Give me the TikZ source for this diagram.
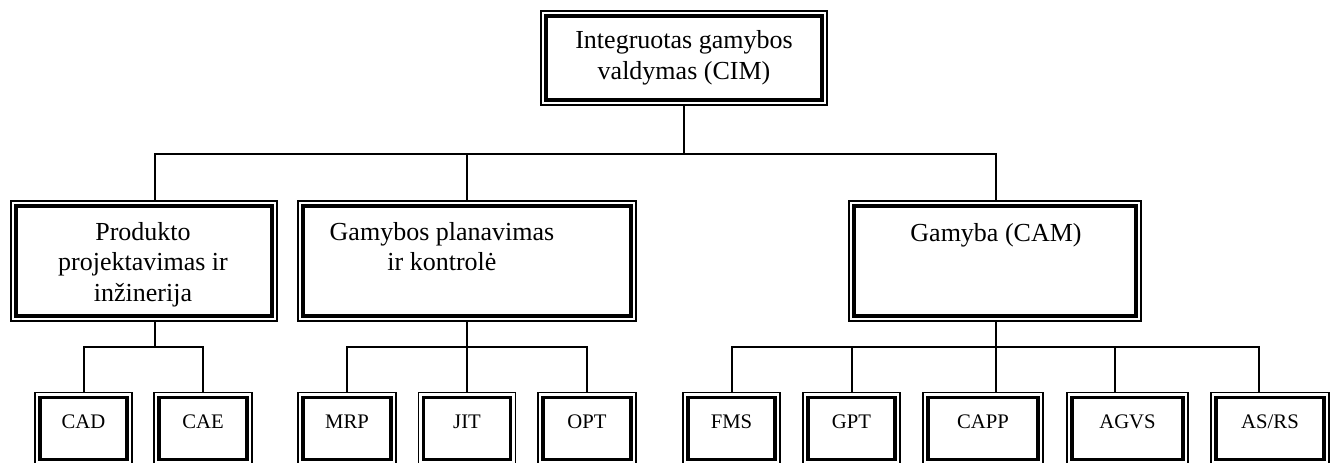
\documentclass[tikz,border=0pt]{standalone}
\usepackage{fontspec}
\setmainfont{Liberation Serif}
\newcommand\toplines[1]{\parbox[t]{330pt}{\centering #1}}
\begin{document}
\begin{tikzpicture}[x=1pt,y=-1pt,
  box/.style={draw, line width=1.5pt, inner sep=0pt, outer sep=0pt},
  bigbox/.style={box, minimum height=120pt},
  smallbox/.style={box, minimum height=72pt},
  innerframe/.style={line width=3.3pt},
  wire/.style={line width=2pt},
  bigtxt/.style={inner sep=0pt, align=center, font=\fontsize{26}{30.5}\selectfont},
  smalltxt/.style={inner sep=0pt, anchor=base, font=\fontsize{20.7}{24}\selectfont}]
\useasboundingbox (0,0) rectangle (1339,463);
\clip (0,0) rectangle (1339,463);

% top level
\node[box, bigtxt, minimum width=286pt, minimum height=94pt] (cim) at (684,58)
  {Integruotas gamybos\\valdymas (CIM)};

% second level
\node[bigbox, minimum width=266pt] (ppi) at (144,261) {};
\node[bigbox, minimum width=338pt] (gpk) at (467,261) {};
\node[bigbox, minimum width=292pt] (cam) at (995,261) {};
\node[bigtxt, anchor=base] (ppi-t) at (143,240) {\toplines{Produkto\\projektavimas ir\\inžinerija}};
\node[bigtxt, anchor=base] (gpk-t) at (442,240) {\toplines{Gamybos planavimas\\ir kontrolė}};
\node[bigtxt, anchor=base] (cam-t) at (996,241) {Gamyba (CAM)};

% third level
\node[smallbox, minimum width=97pt]  (cad)  at (83.5,428.5) {};
\node[smallbox, minimum width=98pt]  (cae)  at (203,428.5) {};
\node[smallbox, minimum width=98pt]  (mrp)  at (347,428.5) {};
\node[smallbox, minimum width=97pt]  (jit)  at (467,428.5) {};
\node[smallbox, minimum width=98pt]  (opt)  at (587,428.5) {};
\node[smallbox, minimum width=97pt]  (fms)  at (731.5,428.5) {};
\node[smallbox, minimum width=97pt]  (gpt)  at (851.5,428.5) {};
\node[smallbox, minimum width=120pt] (capp) at (983,428.5) {};
\node[smallbox, minimum width=121pt] (agvs) at (1127.5,428.5) {};
\node[smallbox, minimum width=118pt] (asrs) at (1270,428.5) {};

\node[smalltxt] (cad-t)  at (83.5,428) {CAD};
\node[smalltxt] (cae-t)  at (203,428) {CAE};
\node[smalltxt] (mrp-t)  at (347,428) {MRP};
\node[smalltxt] (jit-t)  at (467,428) {JIT};
\node[smalltxt] (opt-t)  at (587,428) {OPT};
\node[smalltxt] (fms-t)  at (731.5,428) {FMS};
\node[smalltxt] (gpt-t)  at (851.5,428) {GPT};
\node[smalltxt] (capp-t) at (983,428) {CAPP};
\node[smalltxt] (agvs-t) at (1127.5,428) {AGVS};
\node[smalltxt] (asrs-t) at (1270,428) {AS/RS};

% thick inner frame of every box
\foreach \n in {cim,ppi,gpk,cam,cad,cae,mrp,jit,opt,fms,gpt,capp,agvs,asrs}
  \draw[innerframe] ([shift={(5,5)}]\n.north west) rectangle ([shift={(-5,-5)}]\n.south east);

% bus junctions
\coordinate (bus0) at (684,154);
\coordinate (bus1) at (154.5,346.5);
\coordinate (bus2) at (467,346.5);
\coordinate (bus3) at (995.5,346.5);

% connectors
\draw[wire] (cim.south) -- (bus0);
\draw[wire] ([xshift=10.5]ppi.north) |- (bus0) -| ([xshift=0.5]cam.north);
\draw[wire] (gpk.north) -- (gpk.north |- bus0);

\draw[wire] ([xshift=10.5]ppi.south) -- (bus1);
\draw[wire] (cad.north) |- (bus1) -| (cae.north);

\draw[wire] (gpk.south) -- (bus2) -- (jit.north);
\draw[wire] (mrp.north) |- (bus2) -| (opt.north);

\draw[wire] ([xshift=0.5]cam.south) -- (bus3) -- ([xshift=12.5]capp.north);
\draw[wire] (fms.north) |- (bus3) -| ([xshift=-11]asrs.north);
\draw[wire] (gpt.north) -- (gpt.north |- bus3);
\draw[wire] ([xshift=-12.5]agvs.north) -- ([xshift=-12.5]agvs.north |- bus3);
\end{tikzpicture}
\end{document}
